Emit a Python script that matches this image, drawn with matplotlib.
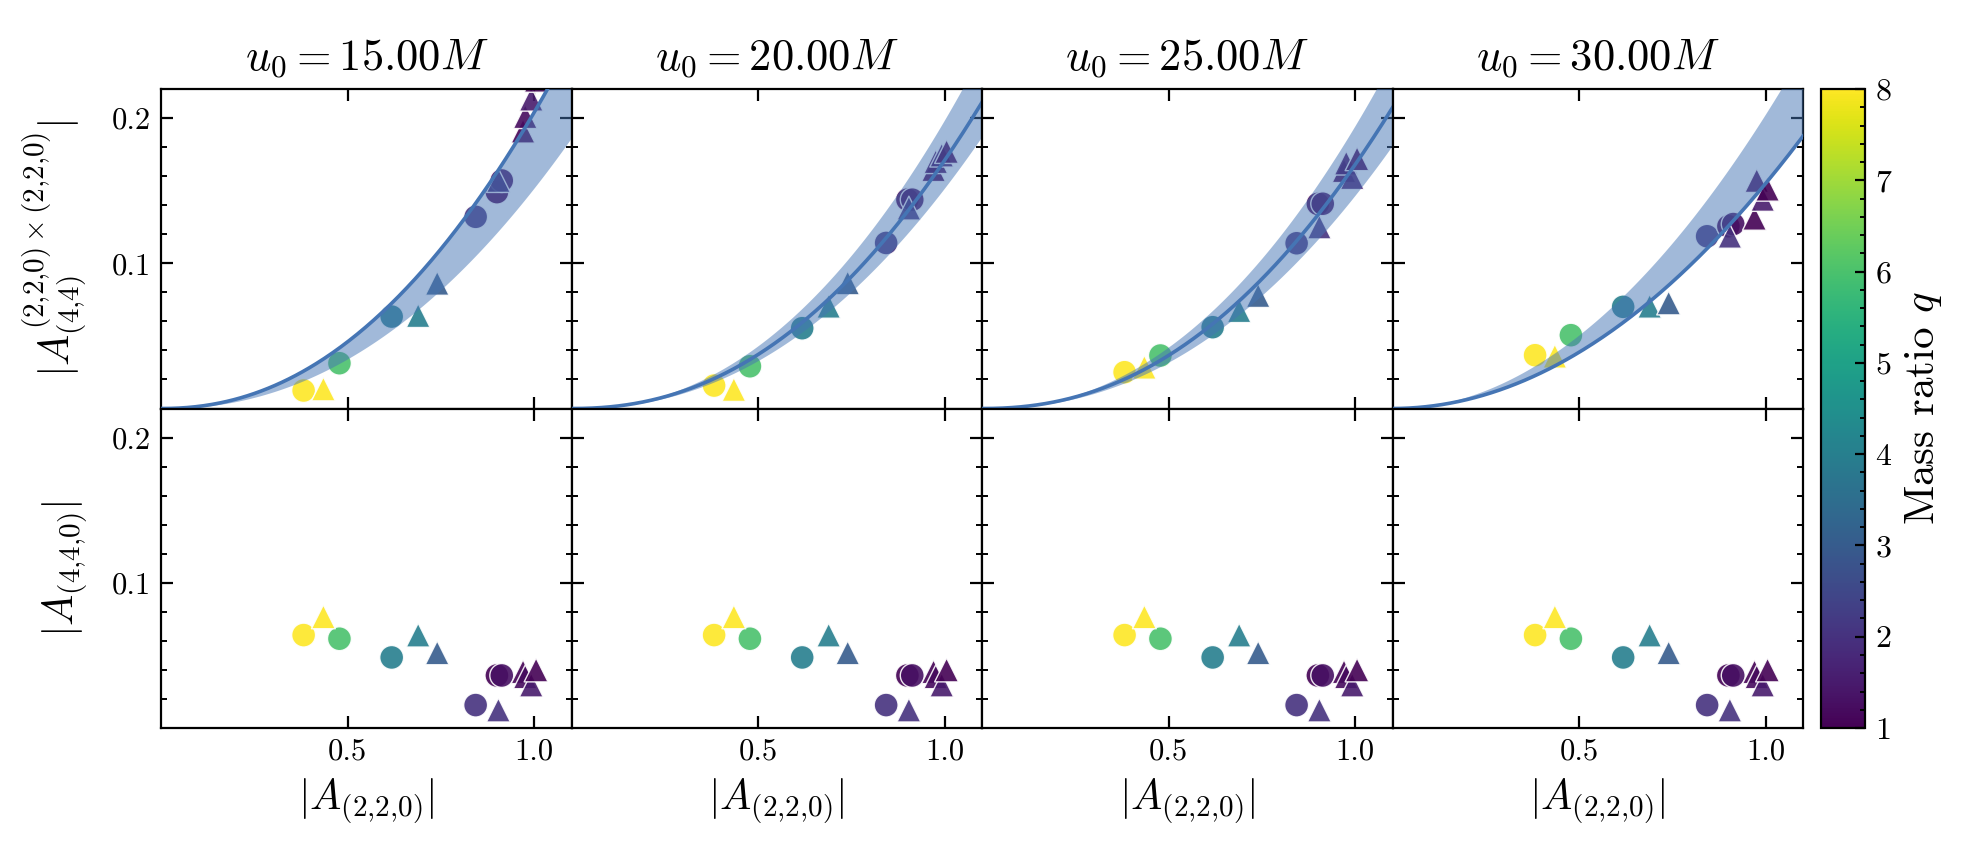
import numpy as np
import matplotlib
matplotlib.use("Agg")
import matplotlib.pyplot as plt
from matplotlib.ticker import MultipleLocator
from matplotlib.cm import ScalarMappable
from matplotlib.colors import Normalize

plt.rcParams['font.family'] = 'serif'
plt.rcParams['font.serif'] = ['cmr10']
plt.rcParams['mathtext.fontset'] = 'cm'
plt.rcParams['axes.formatter.use_mathtext'] = True
plt.rcParams['axes.unicode_minus'] = False

# start times of the fits
u0_list = [15.0, 20.0, 25.0, 30.0]

# one entry per simulation
sim_marker = ['o', '^', 'o', 'o', '^', '^', 'o', 'o', 'o', '^', '^', '^', '^', '^']
mass_ratio = [8, 8, 6, 4, 4, 3, 2, 1, 1.3, 2, 1, 1.2, 1.5, 1]
a220 = [0.382, 0.435, 0.478, 0.618, 0.689, 0.740, 0.843, 0.900, 0.913, 0.904,
        0.970, 0.976, 0.992, 1.005]
a440 = [0.064, 0.0766, 0.0615, 0.0486, 0.064, 0.0518, 0.0158, 0.0362, 0.0362,
        0.0124, 0.0388, 0.0353, 0.0296, 0.040]

# quadratic (4,4) amplitude for every start time
quad_u15 = [0.0124, 0.0135, 0.0312, 0.0633, 0.064, 0.0862, 0.132, 0.149, 0.157,
            0.157, 0.191, 0.201, 0.213, 0.226]
quad_u20 = [0.0158, 0.0131, 0.0291, 0.0553, 0.0704, 0.0865, 0.114, 0.1438, 0.1438,
            0.138, 0.1645, 0.170, 0.1745, 0.177]
quad_u25 = [0.025, 0.0284, 0.0365, 0.056, 0.0674, 0.0778, 0.1138, 0.1409, 0.141,
            0.125, 0.1638, 0.169, 0.159, 0.172]
quad_u30 = [0.0367, 0.036, 0.0505, 0.070, 0.0704, 0.0727, 0.1186, 0.1255, 0.127,
            0.1186, 0.131, 0.157, 0.144, 0.151]
quad_all = [quad_u15, quad_u20, quad_u25, quad_u30]

# fit  y = R * x**p  and its band
fit_ratio = [0.204, 0.171, 0.168, 0.155]
band_lo = [0.152, 0.152, 0.147, 0.155]
band_hi = [0.206, 0.199, 0.195, 0.203]
fit_power = [2.15, 2.2, 2.2, 2.0]

line_col = '#4575b4'
cmap = 'viridis'
norm = Normalize(vmin=1, vmax=8)

fig = plt.figure(figsize=(1969 / 200, 855 / 200), dpi=200)
left, right, bottom, top = 0.0818, 0.9157, 0.1485, 0.8959
pw = (right - left) / 4
ph = (top - bottom) / 2

sim_marker = np.array(sim_marker)
mass_ratio = np.array(mass_ratio)
a220 = np.array(a220)
a440 = np.array(a440)
xs = np.linspace(0, 1.1, 300)


def style_axes(ax, show_x, show_y):
    ax.set_xlim(0, 1.1)
    ax.set_ylim(0, 0.22)
    ax.set_xticks([0.5, 1.0])
    ax.set_yticks([0.1, 0.2])
    ax.yaxis.set_minor_locator(MultipleLocator(0.02))
    ax.tick_params(which='both', direction='in', top=True, right=True, labelsize=11)
    ax.tick_params(which='major', length=4.2, width=0.8)
    ax.tick_params(which='minor', length=2.2, width=0.7)
    if show_x:
        ax.set_xticklabels(['0.5', '1.0'])
    else:
        ax.set_xticklabels([])
    if show_y:
        ax.set_yticklabels(['0.1', '0.2'])
    else:
        ax.set_yticklabels([])


def draw_points(ax, yvals):
    for m in ['o', '^']:
        sel = sim_marker == m
        ax.scatter(a220[sel], np.array(yvals)[sel], c=mass_ratio[sel], cmap=cmap,
                   norm=norm, marker=m, s=74, alpha=0.9, edgecolors='white',
                   linewidths=0.5, zorder=2)


for i, u0 in enumerate(u0_list):
    ax_t = fig.add_axes([left + i * pw, bottom + ph, pw, ph])
    ax_b = fig.add_axes([left + i * pw, bottom, pw, ph])

    draw_points(ax_t, quad_all[i])
    ax_t.fill_between(xs, band_lo[i] * xs ** fit_power[i], band_hi[i] * xs ** fit_power[i],
                      color=line_col, alpha=0.5, lw=0, zorder=3)
    ax_t.plot(xs, fit_ratio[i] * xs ** fit_power[i], color=line_col, lw=1.3, zorder=4)
    ax_t.set_title(r'$u_0 = %.2fM$' % u0, fontsize=16, pad=7)

    draw_points(ax_b, a440)
    ax_b.set_xlabel(r'$|A_{(2{,}2{,}0)}|$', fontsize=15)

    style_axes(ax_t, False, i == 0)
    style_axes(ax_b, True, i == 0)
    if i == 0:
        ax_t.set_ylabel(r'$|A^{(2{,}2{,}0)\times(2{,}2{,}0)}_{(4{,}4)}|$', fontsize=15)
        ax_b.set_ylabel(r'$|A_{(4{,}4{,}0)}|$', fontsize=15)
        ax_t.yaxis.set_label_coords(-0.175, 0.5)
        ax_b.yaxis.set_label_coords(-0.175, 0.5)

cax = fig.add_axes([0.9248, bottom, 0.0223, top - bottom])
cb = fig.colorbar(ScalarMappable(norm=norm, cmap=cmap), cax=cax)
cb.set_ticks(range(1, 9))
cb.ax.yaxis.set_minor_locator(MultipleLocator(0.2))
cb.ax.tick_params(which='both', direction='in', labelsize=11.5)
cb.ax.tick_params(which='major', length=3.5, width=0.8)
cb.ax.tick_params(which='minor', length=1.8, width=0.7)
cb.set_label(r'Mass ratio $q$', fontsize=15.5)

fig.savefig('out.png', dpi=200)
